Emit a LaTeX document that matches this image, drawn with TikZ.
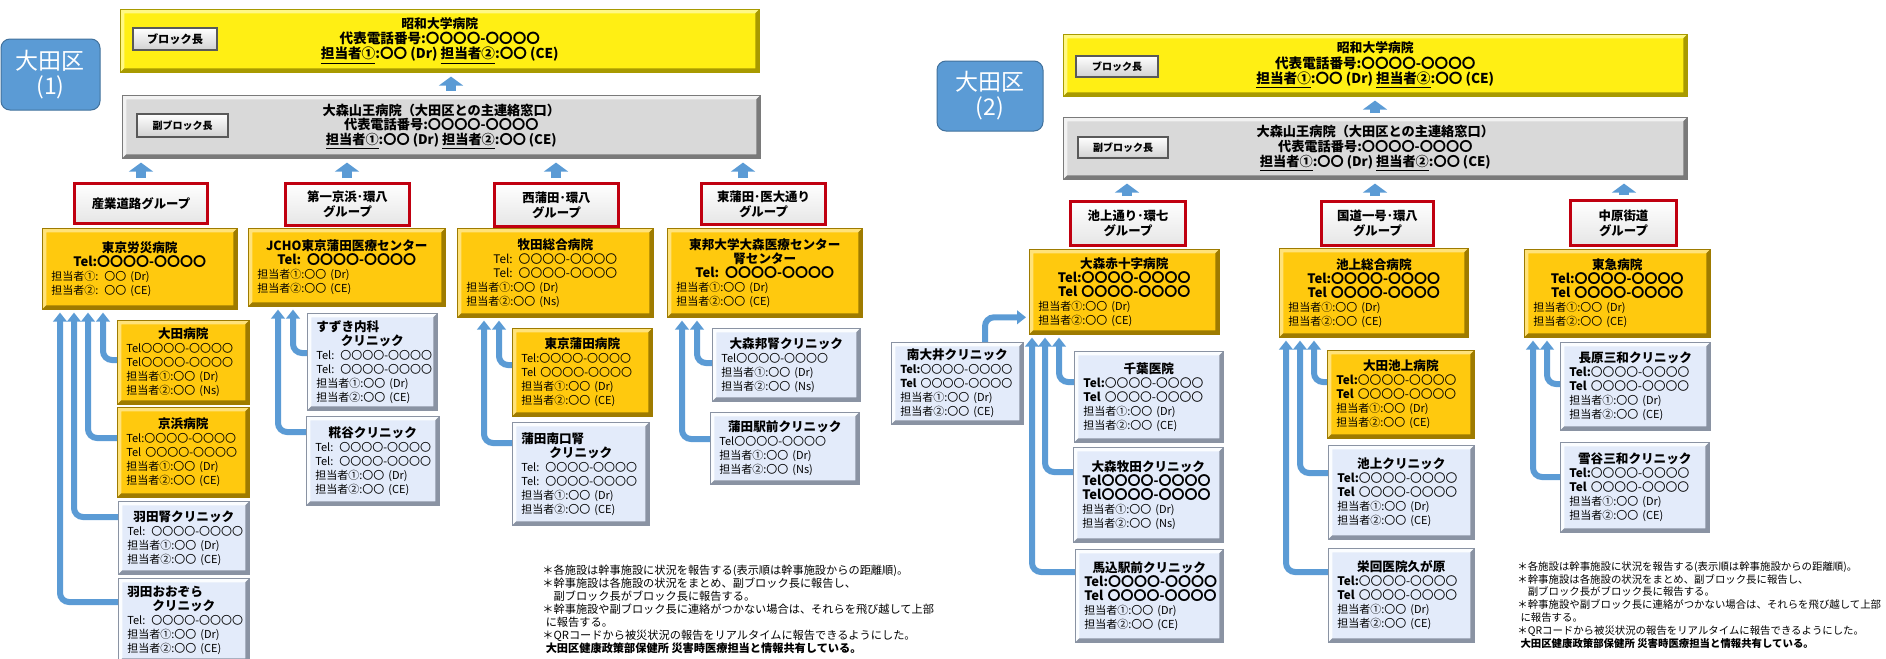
\documentclass[tikz,border=0pt]{standalone}
\usepackage{fontspec}
\setmainfont{Noto Sans CJK JP}
\usetikzlibrary{arrows.meta}
\definecolor{cGold}{HTML}{FFC90E}
\definecolor{cGoldL}{HTML}{FFE27A}
\definecolor{cGoldD}{HTML}{9E7B00}
\definecolor{cLb}{HTML}{E3EBFA}
\definecolor{cLbL}{HTML}{FBFDFF}
\definecolor{cLbD}{HTML}{8A93A3}
\definecolor{cYel}{HTML}{FFEF14}
\definecolor{cYelL}{HTML}{FFF884}
\definecolor{cYelD}{HTML}{A89A00}
\definecolor{cGr}{HTML}{D9D9D9}
\definecolor{cGrL}{HTML}{F2F2F2}
\definecolor{cGrD}{HTML}{7A7A7A}
\definecolor{cArr}{HTML}{5B9BD5}
\definecolor{cArrD}{HTML}{41719C}
\definecolor{cRed}{HTML}{C00010}
\newcommand\ctr[1]{\hspace*{\fill}#1\hspace*{\fill}\mbox{}}
\newcommand\ttl[1]{\ctr{\mbox{\bfseries\fontsize{6.3}{7}\selectfont #1}}}
\newcommand\ltl[1]{\mbox{\bfseries\fontsize{6.3}{7}\selectfont #1}}
\newcommand\smt[1]{\mbox{\fontsize{5.5}{7}\selectfont #1}}
\newcommand\mdt[1]{\mbox{\fontsize{5.9}{7}\selectfont #1}}
\newcommand\bigtel[1]{\mbox{\bfseries\fontsize{6.5}{7}\selectfont #1}}
\newcommand\facbox[7]{%
  \pgfmathsetmacro\fbw{(#5-#3)*0.5}%
  \pgfmathsetmacro\fbh{(#6-#4)*0.5}%
  \pgfmathsetmacro\fbt{(#5-#3)*0.5-9}%
  \node[#1, anchor=north west, minimum width=\fbw pt, minimum height=\fbh pt,
        text width=\fbt pt, inner xsep=4.5pt, inner ysep=0pt, align=left,
        font=\fontsize{6}{7}\selectfont] (#2) at (#3,#4) {#7};}
\begin{document}
\begin{tikzpicture}[x=0.5pt,y=-0.5pt,
  bev/.style n args={3}{fill=#1, draw=#3, line width=0.3pt, path picture={
     \coordinate (pA) at (path picture bounding box.south west);
     \coordinate (pC) at (path picture bounding box.north east);
     \coordinate (pB) at (pA -| pC);
     \coordinate (pD) at (pA |- pC);
     \fill[#2] (pD) -- (pC) -- ([shift={(-2pt,-2pt)}]pC) -- ([shift={(2pt,-2pt)}]pD) -- ([shift={(2pt,2pt)}]pA) -- (pA) -- cycle;
     \fill[#3] (pA) -- (pB) -- (pC) -- ([shift={(-2pt,-2pt)}]pC) -- ([shift={(-2pt,2pt)}]pB) -- ([shift={(2pt,2pt)}]pA) -- cycle;
  }},
  goldbox/.style={bev={cGold}{cGoldL}{cGoldD}},
  blubox/.style={bev={cLb}{cLbL}{cLbD}},
  yelbox/.style={bev={cYel}{cYelL}{cYelD}, align=center, inner sep=0pt, font=\bfseries\fontsize{6.8}{7.6}\selectfont},
  grybox/.style={bev={cGr}{cGrL}{cGrD}, align=center, inner sep=0pt, font=\bfseries\fontsize{6.6}{7.4}\selectfont},
  lbl/.style={draw=black!65, line width=0.7pt, top color=white, bottom color=black!18, inner sep=0pt, font=\bfseries\fontsize{5.6}{6}\selectfont},
  grp/.style={draw=cRed, line width=1.5pt, top color=white, bottom color=black!10, align=center, inner sep=0pt, anchor=north west, font=\bfseries\fontsize{6.2}{7.6}\selectfont},
  ward/.style={draw=cArrD, line width=0.5pt, fill=cArr, rounded corners=4.5pt, text=white, align=center, inner sep=0pt, font=\fontsize{11.5}{12.5}\selectfont},
  conn/.style={draw=cArr, line width=3pt, rounded corners=4.5pt, -{Triangle[width=6.8pt,length=4.5pt]}, shorten >=1.5pt},
  bigarr/.style={draw=cArr, line width=5pt, -{Triangle[width=12pt,length=4.5pt]}, shorten <=2pt, shorten >=2pt},
  note/.style={anchor=north west, inner sep=0pt, align=left, font=\fontsize{5.6}{6.5}\selectfont}]
\useasboundingbox (0,0) rectangle (1886,659);

% ================= LEFT PANEL =================
\node[ward, minimum width=49.5pt, minimum height=35.5pt] (ward1) at (50.5,74.5) {大田区\\(1)};
\node[yelbox, anchor=north west, minimum width=319.5pt, minimum height=31.5pt] (blk1) at (120,9)
  {{\fontsize{6.4}{7.4}\selectfont 昭和大学病院}\\代表電話番号:〇〇〇〇-〇〇〇〇\\\underline{担当者①}:〇〇 (Dr) \underline{担当者②}:〇〇 (CE)};
\node[lbl, minimum width=42pt, minimum height=11pt] (blk1l) at (175,39) {ブロック長};
\node[grybox, anchor=north west, minimum width=319pt, minimum height=31.5pt] (sub1) at (122,95)
  {大森山王病院（大田区との主連絡窓口）\\代表電話番号:〇〇〇〇-〇〇〇〇\\\underline{担当者①}:〇〇 (Dr) \underline{担当者②}:〇〇 (CE)};
\node[lbl, minimum width=45.5pt, minimum height=11.5pt] (sub1l) at (182.5,125.5) {\fontsize{5}{6}\selectfont 副ブロック長};
\draw[bigarr] (sub1.north -| 451,0) -- (blk1.south -| 451,0);

\node[grp, minimum width=66.5pt, minimum height=20pt] (g1) at (73,182) {産業道路グループ};
\node[grp, minimum width=62pt, minimum height=21pt] (g2) at (284,182) {第一京浜･環八\\グループ};
\node[grp, minimum width=62pt, minimum height=21.5pt] (g3) at (493,182) {西蒲田･環八\\グループ};
\node[grp, minimum width=62pt, minimum height=20.5pt] (g4) at (700,182) {東蒲田･医大通り\\グループ};
\draw[bigarr] (g1.north -| 141,0) -- (sub1.south -| 141,0);
\draw[bigarr] (g2.north -| 347,0) -- (sub1.south -| 347,0);
\draw[bigarr] (g3.north -| 556,0) -- (sub1.south -| 556,0);
\draw[bigarr] (g4.north -| 743,0) -- (sub1.south -| 743,0);

\facbox{goldbox}{m1}{42}{228}{237}{309}{\ttl{東京労災病院}\\\ctr{\bigtel{Tel:〇〇〇〇-〇〇〇〇}}\\\smt{担当者①: 〇〇 (Dr)}\\\smt{担当者②: 〇〇 (CE)}}
\facbox{goldbox}{m2}{248}{228}{445}{306}{\ttl{JCHO東京蒲田医療センター}\\\ctr{\bigtel{Tel: 〇〇〇〇-〇〇〇〇}}\\\smt{担当者①:〇〇 (Dr)}\\\smt{担当者②:〇〇 (CE)}}
\facbox{goldbox}{m3}{457}{228}{653}{317}{\ttl{牧田総合病院}\\\ctr{\mdt{Tel: 〇〇〇〇-〇〇〇〇}}\\\ctr{\mdt{Tel: 〇〇〇〇-〇〇〇〇}}\\\smt{担当者①:〇〇 (Dr)}\\\smt{担当者②:〇〇 (Ns)}}
\facbox{goldbox}{m4}{667}{228}{862}{317}{\ttl{東邦大学大森医療センター}\\\ttl{腎センター}\\\ctr{\bigtel{Tel: 〇〇〇〇-〇〇〇〇}}\\\smt{担当者①:〇〇 (Dr)}\\\smt{担当者②:〇〇 (CE)}}

\facbox{goldbox}{s11}{117}{320}{249}{404}{\ttl{大田病院}\\\smt{Tel〇〇〇〇-〇〇〇〇}\\\smt{Tel〇〇〇〇-〇〇〇〇}\\\smt{担当者①:〇〇 (Dr)}\\\smt{担当者②:〇〇 (Ns)}}
\facbox{goldbox}{s12}{117}{407}{249}{497}{\ttl{京浜病院}\\\smt{Tel:〇〇〇〇-〇〇〇〇}\\\smt{Tel 〇〇〇〇-〇〇〇〇}\\\smt{担当者①:〇〇 (Dr)}\\\smt{担当者②:〇〇 (CE)}}
\facbox{blubox}{s13}{118}{501}{249}{574}{\ttl{羽田腎クリニック}\\\smt{Tel: 〇〇〇〇-〇〇〇〇}\\\smt{担当者①:〇〇 (Dr)}\\\smt{担当者②:〇〇 (CE)}}
\facbox{blubox}{s14}{118}{578}{249}{662}{\ltl{羽田おおぞら}\\\ttl{クリニック}\\\smt{Tel: 〇〇〇〇-〇〇〇〇}\\\smt{担当者①:〇〇 (Dr)}\\\smt{担当者②:〇〇 (CE)}}
\draw[conn] (s11.west |- 0,360) -| (m1.south -| 103,0);
\draw[conn] (s12.west |- 0,438) -| (m1.south -| 88,0);
\draw[conn] (s13.west |- 0,517) -| (m1.south -| 74,0);
\draw[conn] (s14.west |- 0,602) -| (m1.south -| 60,0);

\facbox{blubox}{s21}{307}{313}{437}{410}{\ltl{すずき内科}\\\ttl{クリニック}\\\smt{Tel: 〇〇〇〇-〇〇〇〇}\\\smt{Tel: 〇〇〇〇-〇〇〇〇}\\\smt{担当者①:〇〇 (Dr)}\\\smt{担当者②:〇〇 (CE)}}
\facbox{blubox}{s22}{306}{416}{439}{505}{\ttl{糀谷クリニック}\\\smt{Tel: 〇〇〇〇-〇〇〇〇}\\\smt{Tel: 〇〇〇〇-〇〇〇〇}\\\smt{担当者①:〇〇 (Dr)}\\\smt{担当者②:〇〇 (CE)}}
\draw[conn] (s21.west |- 0,353) -| (m2.south -| 293,0);
\draw[conn] (s22.west |- 0,432) -| (m2.south -| 278,0);

\facbox{goldbox}{s31}{512}{328}{652}{416}{\ttl{東京蒲田病院}\\\smt{Tel:〇〇〇〇-〇〇〇〇}\\\smt{Tel 〇〇〇〇-〇〇〇〇}\\\smt{担当者①:〇〇 (Dr)}\\\smt{担当者②:〇〇 (CE)}}
\facbox{blubox}{s32}{512}{422}{649}{525}{\ltl{蒲田南口腎}\\\ttl{クリニック}\\\smt{Tel: 〇〇〇〇-〇〇〇〇}\\\smt{Tel: 〇〇〇〇-〇〇〇〇}\\\smt{担当者①:〇〇 (Dr)}\\\smt{担当者②:〇〇 (CE)}}
\draw[conn] (s31.west |- 0,365) -| (m3.south -| 499,0);
\draw[conn] (s32.west |- 0,443) -| (m3.south -| 484,0);

\facbox{blubox}{s41}{712}{328}{860}{401}{\ttl{大森邦腎クリニック}\\\smt{Tel〇〇〇〇-〇〇〇〇}\\\smt{担当者①:〇〇 (Dr)}\\\smt{担当者②:〇〇 (Ns)}}
\facbox{blubox}{s42}{710}{412}{859}{484}{\ttl{蒲田駅前クリニック}\\\smt{Tel〇〇〇〇-〇〇〇〇}\\\smt{担当者①:〇〇 (Dr)}\\\smt{担当者②:〇〇 (Ns)}}
\draw[conn] (s41.west |- 0,363) -| (m4.south -| 697,0);
\draw[conn] (s42.west |- 0,439) -| (m4.south -| 682,0);

\node[note] (note1) at (542,565) {＊各施設は幹事施設に状況を報告する(表示順は幹事施設からの距離順)。\\＊幹事施設は各施設の状況をまとめ、副ブロック長に報告し、\\\hspace*{1em}副ブロック長がブロック長に報告する。\\＊幹事施設や副ブロック長に連絡がつかない場合は、それらを飛び越して上部\\\hspace*{0.3em}に報告する。\\＊QRコードから被災状況の報告をリアルタイムに報告できるようにした。\\\hspace*{0.3em}{\bfseries 大田区健康政策部保健所 災害時医療担当と情報共有している。}};

% ================= RIGHT PANEL =================
\node[ward, minimum width=53pt, minimum height=35pt] (ward2) at (990,96) {大田区\\(2)};
\node[yelbox, anchor=north west, minimum width=312pt, minimum height=31pt] (blk2) at (1063,34)
  {{\fontsize{6.4}{7.4}\selectfont 昭和大学病院}\\代表電話番号:〇〇〇〇-〇〇〇〇\\\underline{担当者①}:〇〇 (Dr) \underline{担当者②}:〇〇 (CE)};
\node[lbl, minimum width=41pt, minimum height=10.5pt] (blk2l) at (1117,66.5) {\fontsize{5}{6}\selectfont ブロック長};
\node[grybox, anchor=north west, minimum width=312pt, minimum height=31pt] (sub2) at (1063,117)
  {大森山王病院（大田区との主連絡窓口）\\代表電話番号:〇〇〇〇-〇〇〇〇\\\underline{担当者①}:〇〇 (Dr) \underline{担当者②}:〇〇 (CE)};
\node[lbl, minimum width=45pt, minimum height=10.5pt] (sub2l) at (1123,147.5) {\fontsize{5}{6}\selectfont 副ブロック長};
\draw[bigarr] (sub2.north -| 1375,0) -- (blk2.south -| 1375,0);

\node[grp, minimum width=57.5pt, minimum height=22pt] (g5) at (1069,200) {池上通り･環七\\グループ};
\node[grp, minimum width=56pt, minimum height=22pt] (g6) at (1320,200) {国道一号･環八\\グループ};
\node[grp, minimum width=53pt, minimum height=22.5pt] (g7) at (1569,199) {中原街道\\グループ};
\draw[bigarr] (g5.north -| 1127,0) -- (sub2.south -| 1127,0);
\draw[bigarr] (g6.north -| 1375,0) -- (sub2.south -| 1375,0);
\draw[bigarr] (g7.north -| 1624,0) -- (sub2.south -| 1624,0);

\facbox{goldbox}{m5}{1029}{249}{1219}{334}{\ttl{大森赤十字病院}\\\ctr{\bigtel{Tel:〇〇〇〇-〇〇〇〇}}\\\ctr{\bigtel{Tel 〇〇〇〇-〇〇〇〇}}\\\smt{担当者①:〇〇 (Dr)}\\\smt{担当者②:〇〇 (CE)}}
\facbox{goldbox}{m6}{1279}{248}{1468}{337}{\ttl{池上総合病院}\\\ctr{\bigtel{Tel:〇〇〇〇-〇〇〇〇}}\\\ctr{\bigtel{Tel 〇〇〇〇-〇〇〇〇}}\\\smt{担当者①:〇〇 (Dr)}\\\smt{担当者②:〇〇 (CE)}}
\facbox{goldbox}{m7}{1524}{249}{1710}{337}{\ttl{東急病院}\\\ctr{\bigtel{Tel:〇〇〇〇-〇〇〇〇}}\\\ctr{\bigtel{Tel 〇〇〇〇-〇〇〇〇}}\\\smt{担当者①:〇〇 (Dr)}\\\smt{担当者②:〇〇 (CE)}}

\facbox{blubox}{s50}{891}{342}{1023}{424}{\ttl{南大井クリニック}\\\smt{\textbf{Tel:}〇〇〇〇-〇〇〇〇}\\\smt{\textbf{Tel} 〇〇〇〇-〇〇〇〇}\\\smt{担当者①:〇〇 (Dr)}\\\smt{担当者②:〇〇 (CE)}}
\facbox{blubox}{s51}{1074}{351}{1223}{442}{\ttl{千葉医院}\\\mdt{\textbf{Tel:}〇〇〇〇-〇〇〇〇}\\\mdt{\textbf{Tel} 〇〇〇〇-〇〇〇〇}\\\smt{担当者①:〇〇 (Dr)}\\\smt{担当者②:〇〇 (CE)}}
\facbox{blubox}{s52}{1073}{447}{1223}{542}{\ttl{大森牧田クリニック}\\\bigtel{Tel〇〇〇〇-〇〇〇〇}\\\bigtel{Tel〇〇〇〇-〇〇〇〇}\\\smt{担当者①:〇〇 (Dr)}\\\smt{担当者②:〇〇 (Ns)}}
\facbox{blubox}{s53}{1075}{549}{1223}{642}{\ttl{馬込駅前クリニック}\\\bigtel{Tel:〇〇〇〇-〇〇〇〇}\\\bigtel{Tel 〇〇〇〇-〇〇〇〇}\\\smt{担当者①:〇〇 (Dr)}\\\smt{担当者②:〇〇 (CE)}}
\draw[conn] (s51.west |- 0,382) -| (m5.south -| 1059,0);
\draw[conn] (s52.west |- 0,472) -| (m5.south -| 1045,0);
\draw[conn] (s53.west |- 0,572) -| (m5.south -| 1032,0);
\draw[conn] (s50.north -| 985,0) |- ([yshift=-12.75pt]m5.west);

\facbox{goldbox}{s61}{1327}{350}{1474}{438}{\ttl{大田池上病院}\\\mdt{\textbf{Tel:}〇〇〇〇-〇〇〇〇}\\\mdt{\textbf{Tel} 〇〇〇〇-〇〇〇〇}\\\smt{担当者①:〇〇 (Dr)}\\\smt{担当者②:〇〇 (CE)}}
\facbox{blubox}{s62}{1328}{445}{1474}{539}{\ttl{池上クリニック}\\\mdt{\textbf{Tel:}〇〇〇〇-〇〇〇〇}\\\mdt{\textbf{Tel} 〇〇〇〇-〇〇〇〇}\\\smt{担当者①:〇〇 (Dr)}\\\smt{担当者②:〇〇 (CE)}}
\facbox{blubox}{s63}{1328}{548}{1474}{642}{\ttl{栄回医院久が原}\\\mdt{\textbf{Tel:}〇〇〇〇-〇〇〇〇}\\\mdt{\textbf{Tel} 〇〇〇〇-〇〇〇〇}\\\smt{担当者①:〇〇 (Dr)}\\\smt{担当者②:〇〇 (CE)}}
\draw[conn] (s61.west |- 0,382) -| (m6.south -| 1314,0);
\draw[conn] (s62.west |- 0,473) -| (m6.south -| 1300,0);
\draw[conn] (s63.west |- 0,572) -| (m6.south -| 1286,0);

\facbox{blubox}{s71}{1560}{342}{1710}{430}{\ttl{長原三和クリニック}\\\mdt{\textbf{Tel:}〇〇〇〇-〇〇〇〇}\\\mdt{\textbf{Tel} 〇〇〇〇-〇〇〇〇}\\\smt{担当者①:〇〇 (Dr)}\\\smt{担当者②:〇〇 (CE)}}
\facbox{blubox}{s72}{1560}{442}{1709}{532}{\ttl{雪谷三和クリニック}\\\mdt{\textbf{Tel:}〇〇〇〇-〇〇〇〇}\\\mdt{\textbf{Tel} 〇〇〇〇-〇〇〇〇}\\\smt{担当者①:〇〇 (Dr)}\\\smt{担当者②:〇〇 (CE)}}
\draw[conn] (s71.west |- 0,384) -| (m7.south -| 1547,0);
\draw[conn] (s72.west |- 0,477) -| (m7.south -| 1533,0);

\node[note, font=\fontsize{5.2}{6.4}\selectfont] (note2) at (1517,561) {＊各施設は幹事施設に状況を報告する(表示順は幹事施設からの距離順)。\\＊幹事施設は各施設の状況をまとめ、副ブロック長に報告し、\\\hspace*{1em}副ブロック長がブロック長に報告する。\\＊幹事施設や副ブロック長に連絡がつかない場合は、それらを飛び越して上部\\\hspace*{0.3em}に報告する。\\＊QRコードから被災状況の報告をリアルタイムに報告できるようにした。\\\hspace*{0.3em}{\bfseries 大田区健康政策部保健所 災害時医療担当と情報共有している。}};
\end{tikzpicture}
\end{document}
